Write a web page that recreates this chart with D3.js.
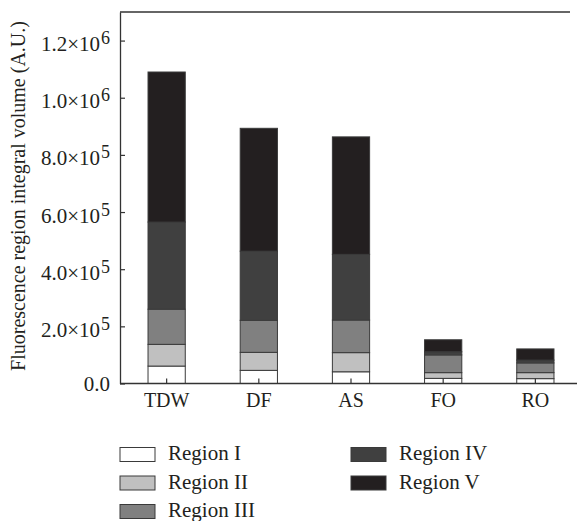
<!DOCTYPE html>
<html>
<head>
<meta charset="utf-8">
<script src="https://cdn.jsdelivr.net/npm/d3@7"></script>
<style>
body { margin: 0; background: #fff; }
text { font-family: "Liberation Serif", "Times New Roman", serif; fill: #231f20; }
</style>
</head>
<body>
<svg id="chart" width="578" height="521"></svg>
<script>
// data
var categories = ["TDW", "DF", "AS", "FO", "RO"];
var regions = ["Region I", "Region II", "Region III", "Region IV", "Region V"];
var regionI   = [61000, 46000, 41000, 18000, 17000];
var regionII  = [76000, 63000, 67000, 20000, 21000];
var regionIII = [123000, 112000, 114000, 62000, 34000];
var regionIV  = [305000, 242000, 230000, 11000, 10000];
var regionV   = [525000, 430000, 411000, 42000, 39000];
var colors = ["#ffffff", "#c0c0c0", "#808080", "#404040", "#231f20"];
var yTicks = [0, 2e5, 4e5, 6e5, 8e5, 1e6, 1.2e6];
var yTickText = ["0.0", "2.0×10", "4.0×10", "6.0×10", "8.0×10", "1.0×10", "1.2×10"];
var yTickExp = ["", "5", "5", "5", "5", "6", "6"];

var series = [regionI, regionII, regionIII, regionIV, regionV];
var table = categories.map(function(c, i) {
	var row = { cat: c };
	regions.forEach(function(r, j) { row[r] = series[j][i]; });
	return row;
});

var svg = d3.select("#chart");
var plotLeft = 120, plotTop = 12, plotBottom = 383.5;

var y = d3.scaleLinear().domain([0, 1.3e6]).range([plotBottom, plotTop]);
var x = d3.scaleBand().domain(categories).range([plotLeft, 582])
	.paddingInner(0.596).paddingOuter(0.304);

var stacked = d3.stack().keys(regions)(table);

// bars
svg.append("g").selectAll("g")
	.data(stacked)
	.enter().append("g")
	.attr("fill", function(d, i) { return colors[i]; })
	.selectAll("rect")
	.data(function(d) { return d; })
	.enter().append("rect")
	.attr("x", function(d) { return x(d.data.cat); })
	.attr("width", x.bandwidth())
	.attr("y", function(d) { return y(d[1]); })
	.attr("height", function(d) { return y(d[0]) - y(d[1]); })
	.attr("stroke", "#3a3a3a")
	.attr("stroke-width", 1);

// y axis
var yAxis = svg.append("g")
	.attr("transform", "translate(" + plotLeft + ",0)")
	.call(d3.axisLeft(y).tickValues(yTicks).tickSize(-5).tickSizeOuter(0).tickFormat(""));
yAxis.select(".domain").attr("stroke", "#333").attr("stroke-width", 1.3);
yAxis.selectAll(".tick line").attr("stroke", "#333").attr("stroke-width", 1.2);
yAxis.selectAll(".tick").each(function(d, i) {
	var t = d3.select(this).append("text")
		.attr("x", -10)
		.attr("dy", yTickExp[i] ? 10 : 6.5)
		.attr("text-anchor", "end")
		.attr("font-size", 21);
	t.append("tspan").text(yTickText[i]);
	if (yTickExp[i]) {
		t.append("tspan").attr("font-size", 18).attr("dx", 1).attr("dy", -7).text(yTickExp[i]);
	}
});

// x axis
var xAxis = svg.append("g")
	.attr("transform", "translate(0," + plotBottom + ")")
	.call(d3.axisBottom(x).tickSize(-5).tickSizeOuter(0));
xAxis.select(".domain").remove();
xAxis.selectAll(".tick line").attr("stroke", "#333").attr("stroke-width", 1.2);
xAxis.selectAll(".tick text")
	.attr("y", 23)
	.attr("dy", 0)
	.attr("font-size", 20)
	.attr("font-family", "Liberation Serif, serif")
	.attr("fill", "#231f20");

svg.append("line")
	.attr("x1", plotLeft).attr("x2", 577)
	.attr("y1", plotBottom).attr("y2", plotBottom)
	.attr("stroke", "#333").attr("stroke-width", 1.3);
svg.append("line")
	.attr("x1", plotLeft).attr("x2", 570)
	.attr("y1", plotTop).attr("y2", plotTop)
	.attr("stroke", "#333").attr("stroke-width", 1.3);

// y label
svg.append("text")
	.attr("transform", "translate(25,196) rotate(-90)")
	.attr("text-anchor", "middle")
	.attr("font-size", 20)
	.text("Fluorescence region integral volume (A.U.)");

// legend
var legend = svg.append("g").selectAll("g")
	.data(regions)
	.enter().append("g")
	.attr("transform", function(d, i) {
		var col = i < 3 ? 0 : 1, row = i < 3 ? i : i - 3;
		return "translate(" + (col ? 351 : 120) + "," + (447.5 + row * 28.5) + ")";
	});
legend.append("rect")
	.attr("width", 35).attr("height", 14)
	.attr("fill", function(d, i) { return colors[i]; })
	.attr("stroke", "#3a3a3a").attr("stroke-width", 1);
legend.append("text")
	.attr("x", 48).attr("y", 12.5)
	.attr("font-size", 21)
	.text(function(d) { return d; });
</script>
</body>
</html>
